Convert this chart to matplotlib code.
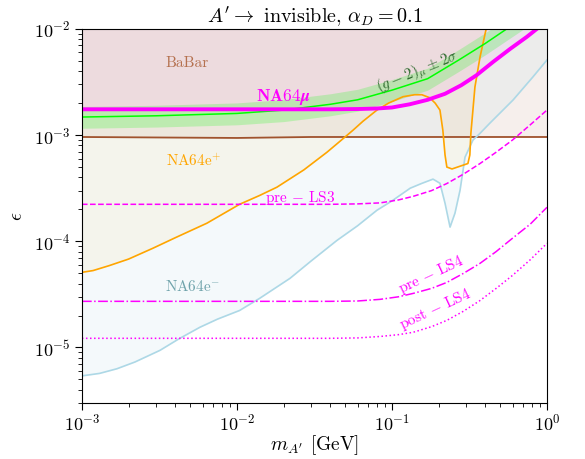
import matplotlib
matplotlib.use('Agg')
import matplotlib.pyplot as plt

# Computer Modern look
plt.rcParams['font.family'] = 'serif'
plt.rcParams['font.serif'] = ['cmr10']
plt.rcParams['mathtext.fontset'] = 'cm'
plt.rcParams['axes.formatter.use_mathtext'] = True
plt.rcParams['axes.unicode_minus'] = False

# --- Data ---
# BaBar limit
babar_m = [1e-3, 3e-3, 1e-2, 3e-2, 0.1, 0.3, 1.0]
babar_eps = [9.6e-4, 9.5e-4, 9.4e-4, 9.6e-4, 9.6e-4, 9.6e-4, 9.6e-4]

# NA64e+ (orange)
e_plus_m = [1.0e-3, 1.18e-3, 1.5e-3, 2.0e-3, 2.87e-3, 4.0e-3, 6.4e-3, 1.04e-2, 1.4e-2,
            1.81e-2, 2.7e-2, 3.81e-2, 4.6e-2, 5.6e-2, 6.5e-2, 8.0e-2, 9.5e-2, 0.118, 0.14,
            0.156, 0.175, 0.19, 0.204, 0.213, 0.22, 0.226, 0.244, 0.309, 0.318, 0.323,
            0.343, 0.37, 0.404]
e_plus_eps = [5.1e-5, 5.3e-5, 5.9e-5, 6.8e-5, 8.6e-5, 1.08e-4, 1.48e-4, 2.23e-4, 2.7e-4,
              3.23e-4, 4.7e-4, 6.9e-4, 8.7e-4, 1.11e-3, 1.35e-3, 1.72e-3, 2.0e-3, 2.3e-3, 2.4e-3,
              2.4e-3, 2.25e-3, 2.0e-3, 1.72e-3, 1.11e-3, 6.5e-4, 5.0e-4, 4.8e-4, 5.4e-4, 6.5e-4,
              1.04e-3, 2.84e-3, 5.44e-3, 9.8e-3]

# NA64e- (light blue)
e_minus_m = [1.0e-3, 1.3e-3, 1.68e-3, 2.2e-3, 3.19e-3, 4.2e-3, 5.77e-3, 7.5e-3, 1.04e-2,
             1.4e-2, 2.2e-2, 3.0e-2, 4.42e-2, 6.0e-2, 8.0e-2, 0.1, 0.131, 0.155, 0.184, 0.204,
             0.22, 0.237, 0.255, 0.275, 0.296, 0.333, 0.37, 0.429, 0.604, 0.81, 1.0]
e_minus_eps = [5.4e-6, 5.7e-6, 6.3e-6, 7.3e-6, 9.4e-6, 1.2e-5, 1.55e-5, 1.85e-5, 2.23e-5,
               2.9e-5, 4.48e-5, 6.5e-5, 1.02e-4, 1.4e-4, 1.96e-4, 2.4e-4, 3.16e-4, 3.5e-4,
               3.85e-4, 3.52e-4, 2.28e-4, 1.36e-4, 1.84e-4, 3.03e-4, 6.2e-4, 8.97e-4, 1.04e-3,
               1.3e-3, 2.14e-3, 3.52e-3, 5.1e-3]

# NA64mu (thick magenta)
mu_m = [1e-3, 1e-2, 4e-2, 6e-2, 8e-2, 0.1, 0.13, 0.17, 0.22, 0.28, 0.35, 0.45, 0.58,
        0.74, 0.86, 1.0]
mu_eps = [1.75e-3, 1.75e-3, 1.75e-3, 1.76e-3, 1.78e-3, 1.82e-3, 1.95e-3, 2.15e-3, 2.45e-3,
          2.95e-3, 3.65e-3, 4.9e-3, 6.5e-3, 8.4e-3, 1.0e-2, 1.2e-2]

# (g-2)_mu band
g2_m = [1e-3, 3e-3, 1e-2, 2e-2, 4e-2, 6e-2, 0.1, 0.17, 0.27, 0.4, 0.55, 1.0]
g2_eps = [1.48e-3, 1.52e-3, 1.6e-3, 1.72e-3, 1.95e-3, 2.15e-3, 2.65e-3, 3.4e-3, 5.1e-3,
          7.3e-3, 1.0e-2, 1.8e-2]
g2_low = [1.16e-3, 1.19e-3, 1.25e-3, 1.34e-3, 1.52e-3, 1.68e-3, 2.07e-3, 2.65e-3, 3.98e-3,
          5.7e-3, 7.8e-3, 1.4e-2]
g2_high = [1.86e-3, 1.91e-3, 2.01e-3, 2.16e-3, 2.45e-3, 2.7e-3, 3.33e-3, 4.27e-3, 6.4e-3,
           9.2e-3, 1.26e-2, 2.3e-2]

# projections
proj_m = [1e-3, 1e-2, 4e-2, 6e-2, 8.4e-2, 0.11, 0.137, 0.18, 0.226, 0.29, 0.37, 0.47, 0.6,
          0.78, 1.0]
pre_ls3 = [2.23e-4, 2.23e-4, 2.23e-4, 2.25e-4, 2.3e-4, 2.45e-4, 2.65e-4, 3.0e-4, 3.5e-4,
           4.3e-4, 5.4e-4, 6.9e-4, 9.0e-4, 1.25e-3, 1.72e-3]
pre_ls4 = [2.72e-5, 2.72e-5, 2.72e-5, 2.74e-5, 2.84e-5, 3.0e-5, 3.23e-5, 3.6e-5, 4.1e-5,
           5.0e-5, 6.2e-5, 8.0e-5, 1.07e-4, 1.45e-4, 2.09e-4]
post_ls4 = [1.22e-5, 1.22e-5, 1.22e-5, 1.23e-5, 1.27e-5, 1.32e-5, 1.39e-5, 1.57e-5, 1.8e-5,
            2.2e-5, 2.77e-5, 3.6e-5, 4.78e-5, 6.7e-5, 9.57e-5]

# --- Plot ---
fig = plt.figure(figsize=(5.85, 4.59), dpi=100)
ax = fig.add_axes([0.140, 0.122, 0.795, 0.815])

top = 1e-2
ax.fill_between(babar_m, babar_eps, top, color='sienna', alpha=0.09, lw=0)
ax.fill_between(e_minus_m, e_minus_eps, top, color='lightblue', alpha=0.13, lw=0)
ax.fill_between(e_plus_m, e_plus_eps, top, color='orange', alpha=0.06, lw=0)
ax.fill_between(mu_m, mu_eps, top, color='magenta', alpha=0.05, lw=0)
ax.fill_between(g2_m, g2_low, g2_high, color='lime', alpha=0.2, lw=0)

ax.plot(babar_m, babar_eps, color='sienna', lw=1.3)
ax.plot(e_minus_m, e_minus_eps, color='lightblue', lw=1.2)
ax.plot(e_plus_m, e_plus_eps, color='orange', lw=1.2)
ax.plot(g2_m, g2_eps, color='lime', lw=1.1)
ax.plot(mu_m, mu_eps, color='magenta', lw=2.8)
ax.plot(proj_m, pre_ls3, color='magenta', lw=1.1, ls='--')
ax.plot(proj_m, pre_ls4, color='magenta', lw=1.1, ls='-.')
ax.plot(proj_m, post_ls4, color='magenta', lw=1.1, ls=':')

# labels
ax.text(4.75e-3, 4.78e-3, 'BaBar', color='#b5714f', fontsize=11, ha='center', va='center')
ax.text(1.98e-2, 2.28e-3, r'$\mathbf{NA64}\boldsymbol{\mu}$', color='magenta', fontsize=12.5,
        ha='center', va='center')
ax.text(0.147, 3.93e-3, r'$(g-2)_\mu \pm 2\sigma$', color='#2f6b2f', fontsize=11,
        ha='center', va='center', rotation=22)
ax.text(5.28e-3, 5.69e-4, r'NA64e$^{+}$', color='orange', fontsize=11, ha='center', va='center')
ax.text(2.55e-2, 2.55e-4, r'pre $-$ LS3', color='magenta', fontsize=11, ha='center', va='center')
ax.text(5.2e-3, 3.76e-5, r'NA64e$^{-}$', color='#6fa3ab', fontsize=11, ha='center', va='center')
ax.text(0.179, 4.78e-5, r'pre $-$ LS4', color='magenta', fontsize=11, ha='center', va='center',
        rotation=25)
ax.text(0.189, 2.29e-5, r'post $-$ LS4', color='magenta', fontsize=11, ha='center', va='center',
        rotation=25)

ax.set_xscale('log')
ax.set_yscale('log')
ax.set_xlim(1e-3, 1)
ax.set_ylim(3e-6, 1e-2)
ax.set_title(r"$A' \to$ invisible, $\alpha_D = 0.1$", fontsize=14.5, pad=5)
ax.set_xlabel(r"$m_{A'}$ [GeV]", fontsize=14, labelpad=0)
ax.set_ylabel(r'$\epsilon$', fontsize=14, labelpad=5)
ax.tick_params(which='both', direction='out', labelsize=13)
ax.tick_params(axis='x', which='major', pad=2)
ax.tick_params(which='major', length=5)
ax.tick_params(which='minor', length=3)

fig.savefig('out.png', dpi=100)
